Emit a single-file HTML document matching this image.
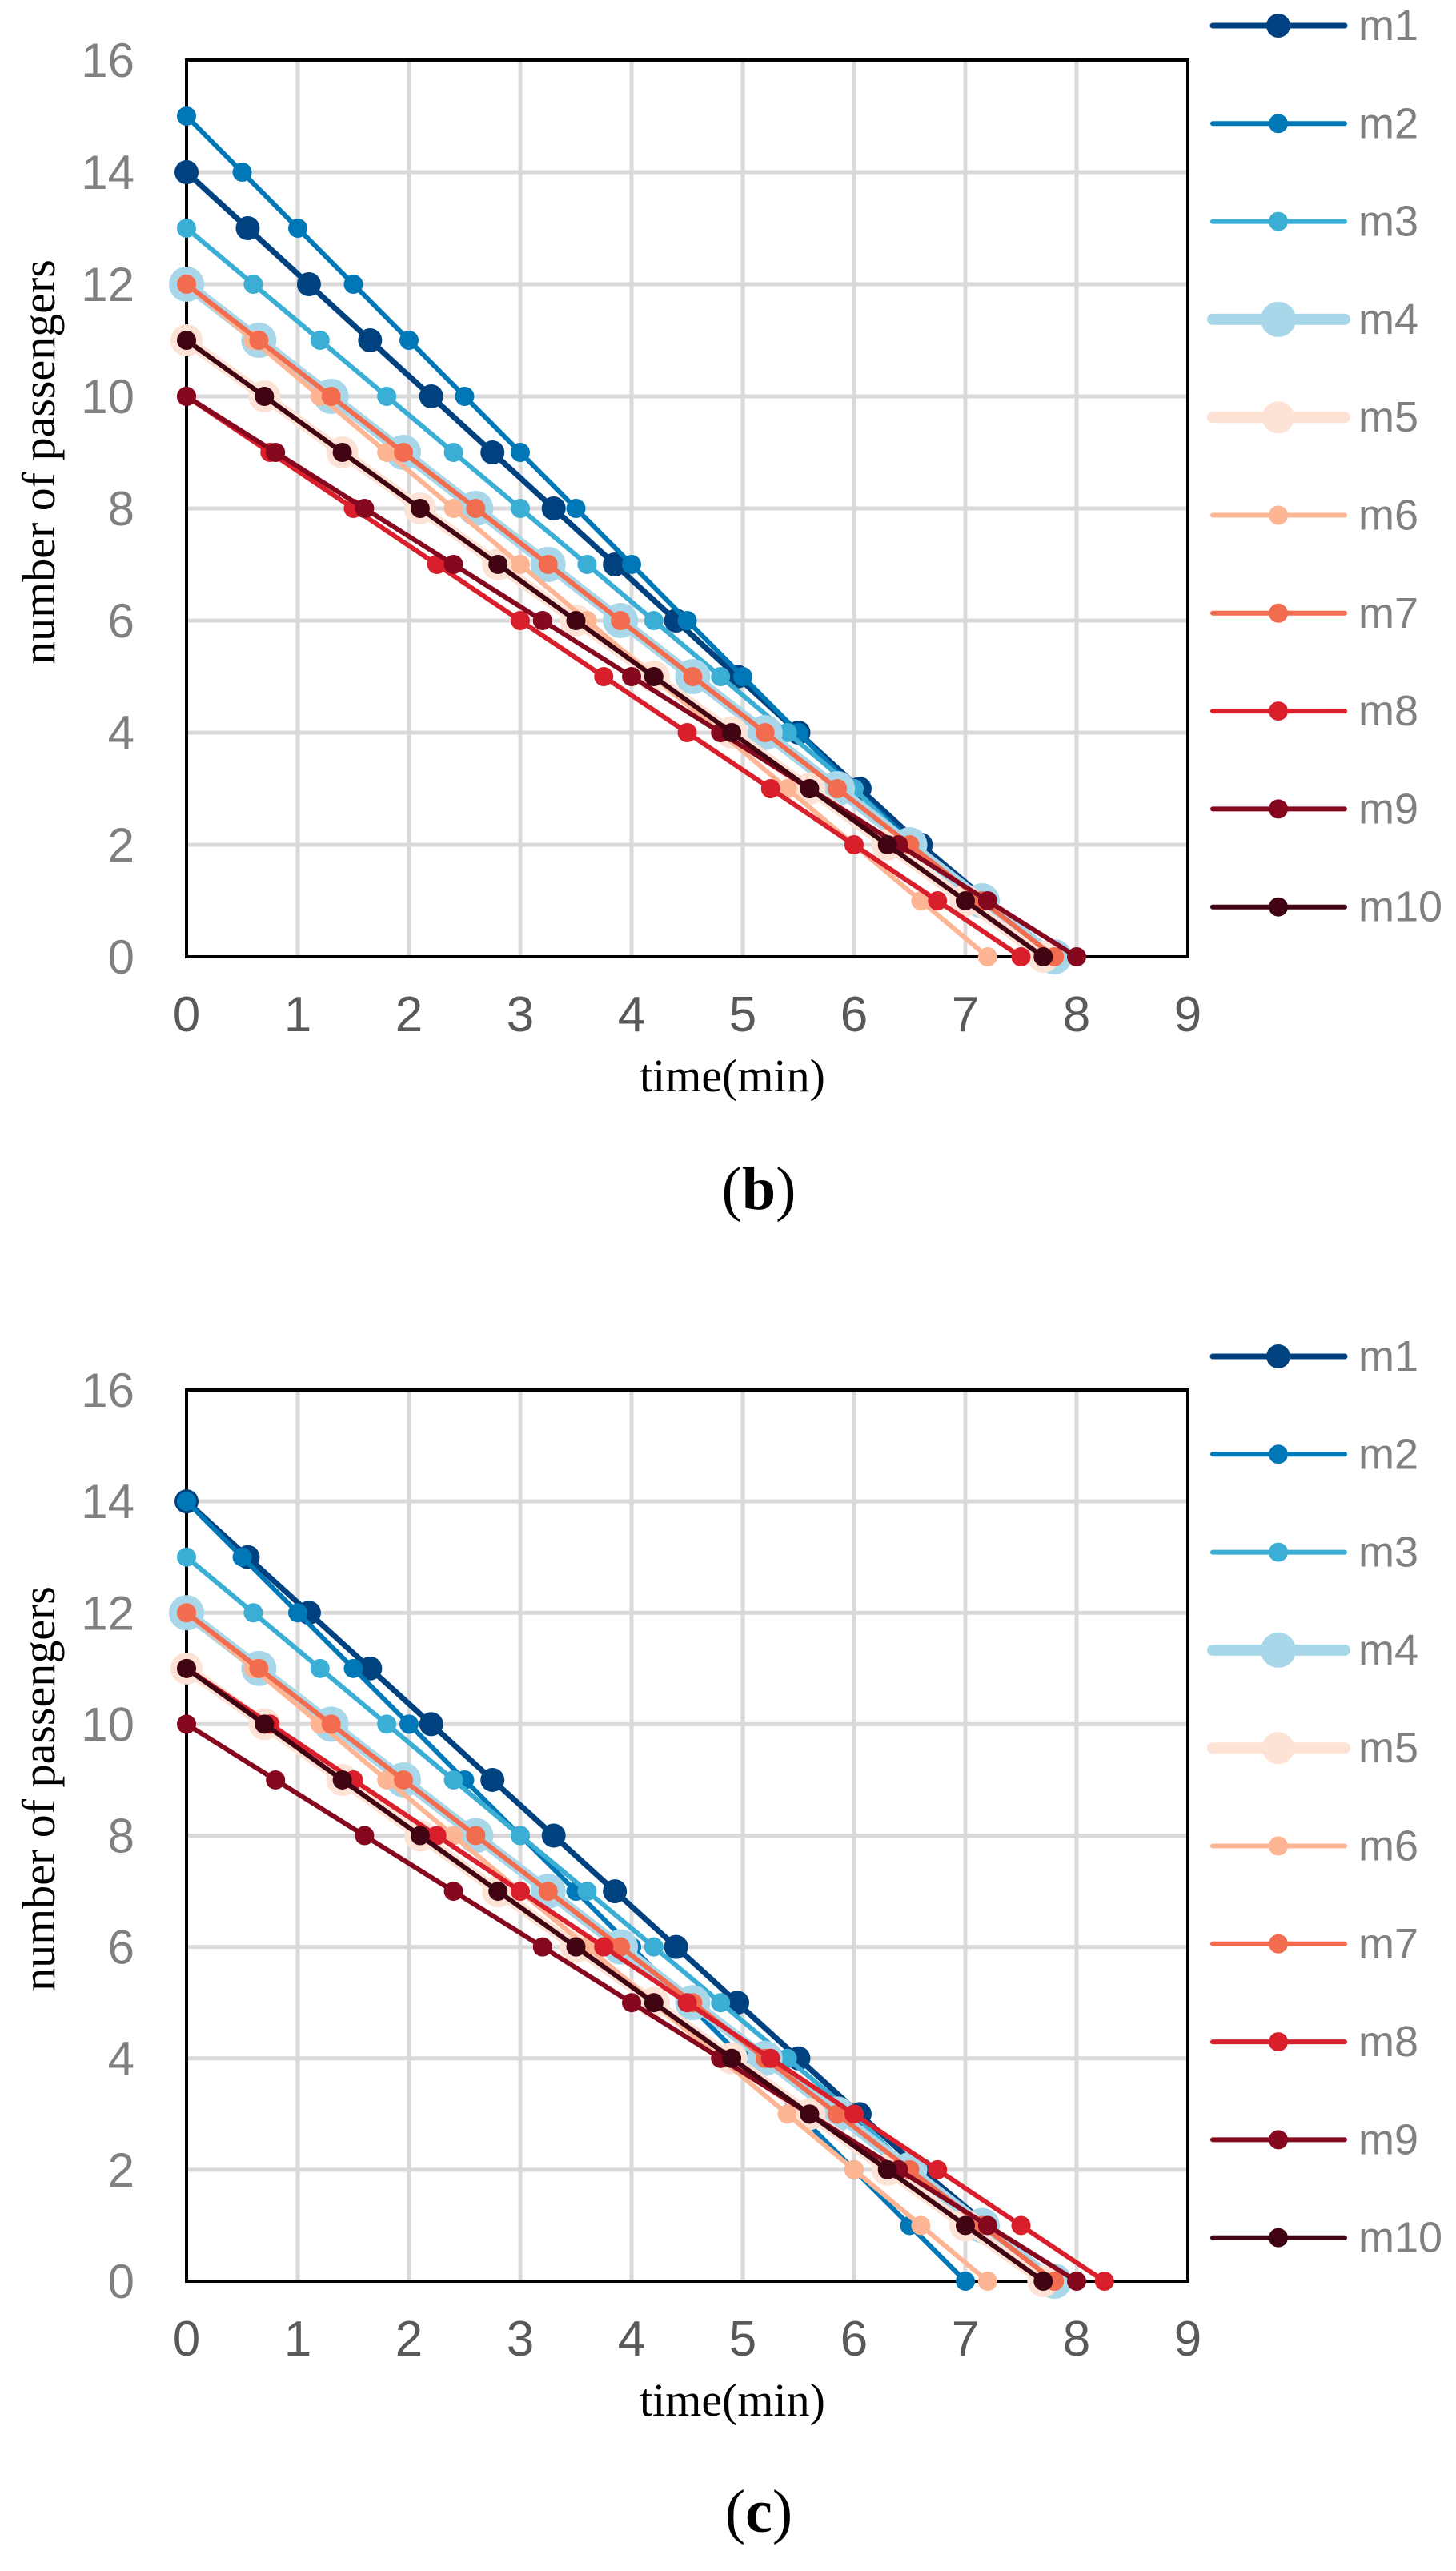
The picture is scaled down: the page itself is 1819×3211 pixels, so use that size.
<!DOCTYPE html>
<html><head><meta charset="utf-8"><style>
html,body{margin:0;padding:0;background:#fff;}
svg{display:block;}
</style></head><body>
<svg id="root" width="1819" height="3211" viewBox="0 0 1819 3211" xmlns="http://www.w3.org/2000/svg"></svg>
<script>
const seriesNames=["m1","m2","m3","m4","m5","m6","m7","m8","m9","m10"];
const xTicks=[0,1,2,3,4,5,6,7,8,9];
const yTicks=[0,2,4,6,8,10,12,14,16];
// panel b data
const bM1x=[0,0.55,1.1,1.65,2.2,2.75,3.3,3.85,4.4,4.95,5.5,6.05,6.6,7.2,7.8];
const bM1y=[14,13,12,11,10,9,8,7,6,5,4,3,2,1,0];
const bM2x=[0,0.5,1,1.5,2,2.5,3,3.5,4,4.5,5,5.5,6,6.55,7.1,7.65];
const bM2y=[15,14,13,12,11,10,9,8,7,6,5,4,3,2,1,0];
const bM3x=[0,0.6,1.2,1.8,2.4,3,3.6,4.2,4.8,5.4,6,6.5,7.1,7.7];
const bM3y=[13,12,11,10,9,8,7,6,5,4,3,2,1,0];
const bM4x=[0,0.65,1.3,1.95,2.6,3.25,3.9,4.55,5.2,5.85,6.5,7.15,7.8];
const bM4y=[12,11,10,9,8,7,6,5,4,3,2,1,0];
const bM5x=[0,0.7,1.4,2.1,2.8,3.5,4.2,4.9,5.6,6.3,7,7.7];
const bM5y=[11,10,9,8,7,6,5,4,3,2,1,0];
const bM6x=[0,0.6,1.2,1.8,2.4,3,3.6,4.2,4.8,5.4,6,6.6,7.2];
const bM6y=[12,11,10,9,8,7,6,5,4,3,2,1,0];
const bM7x=[0,0.65,1.3,1.95,2.6,3.25,3.9,4.55,5.2,5.85,6.5,7.15,7.8];
const bM7y=[12,11,10,9,8,7,6,5,4,3,2,1,0];
const bM8x=[0,0.75,1.5,2.25,3,3.75,4.5,5.25,6,6.75,7.5];
const bM8y=[10,9,8,7,6,5,4,3,2,1,0];
const bM9x=[0,0.8,1.6,2.4,3.2,4,4.8,5.6,6.4,7.2,8];
const bM9y=[10,9,8,7,6,5,4,3,2,1,0];
const bM10x=[0,0.7,1.4,2.1,2.8,3.5,4.2,4.9,5.6,6.3,7,7.7];
const bM10y=[11,10,9,8,7,6,5,4,3,2,1,0];
// panel c data
const cM1x=[0,0.55,1.1,1.65,2.2,2.75,3.3,3.85,4.4,4.95,5.5,6.05,6.6,7.2,7.8];
const cM1y=[14,13,12,11,10,9,8,7,6,5,4,3,2,1,0];
const cM2x=[0,0.5,1,1.5,2,2.5,3,3.5,4,4.5,5,5.5,6,6.5,7];
const cM2y=[14,13,12,11,10,9,8,7,6,5,4,3,2,1,0];
const cM3x=[0,0.6,1.2,1.8,2.4,3,3.6,4.2,4.8,5.4,6,6.5,7.1,7.7];
const cM3y=[13,12,11,10,9,8,7,6,5,4,3,2,1,0];
const cM4x=[0,0.65,1.3,1.95,2.6,3.25,3.9,4.55,5.2,5.85,6.5,7.15,7.8];
const cM4y=[12,11,10,9,8,7,6,5,4,3,2,1,0];
const cM5x=[0,0.7,1.4,2.1,2.8,3.5,4.2,4.9,5.6,6.3,7,7.7];
const cM5y=[11,10,9,8,7,6,5,4,3,2,1,0];
const cM6x=[0,0.6,1.2,1.8,2.4,3,3.6,4.2,4.8,5.4,6,6.6,7.2];
const cM6y=[12,11,10,9,8,7,6,5,4,3,2,1,0];
const cM7x=[0,0.65,1.3,1.95,2.6,3.25,3.9,4.55,5.2,5.85,6.5,7.15,7.8];
const cM7y=[12,11,10,9,8,7,6,5,4,3,2,1,0];
const cM8x=[0,0.75,1.5,2.25,3,3.75,4.5,5.25,6,6.75,7.5,8.25];
const cM8y=[11,10,9,8,7,6,5,4,3,2,1,0];
const cM9x=[0,0.8,1.6,2.4,3.2,4,4.8,5.6,6.4,7.2,8];
const cM9y=[10,9,8,7,6,5,4,3,2,1,0];
const cM10x=[0,0.7,1.4,2.1,2.8,3.5,4.2,4.9,5.6,6.3,7,7.7];
const cM10y=[11,10,9,8,7,6,5,4,3,2,1,0];

const colors=["#00427f","#0078b8","#3aaed5","#a9d7ea","#fde2d6","#fdb594","#f26c50","#d91f2c","#86081f","#410412"];
const lw=[7,6,6,14,14,6,6,6,6,6];
const mr=[15,12,12,22,20,12,12,12,12,12];

const NS="http://www.w3.org/2000/svg";
const root=document.getElementById('root');
function mk(tag,attrs,parent,text){const e=document.createElementNS(NS,tag);for(const k in attrs)e.setAttribute(k,attrs[k]);if(text!==undefined)e.textContent=text;(parent||root).appendChild(e);return e;}

function panel(id,top,bottom,legTop,xs,ys,xTitleY,ytitleY,capY,cap){
  const x0=233,x1=1484;
  const sx=v=>x0+(x1-x0)*v/9;
  const sy=v=>bottom-(bottom-top)*v/16;
  const g=mk('g',{});
  
  
  const grid=mk('g',{},g);
  
  
  xTicks.forEach(t=>{if(t>0&&t<9)mk('line',{x1:sx(t),x2:sx(t),y1:top,y2:bottom,stroke:'#d9d9d9','stroke-width':5},grid);});
  yTicks.forEach(t=>{if(t>0&&t<16)mk('line',{x1:x0,x2:x1,y1:sy(t),y2:sy(t),stroke:'#d9d9d9','stroke-width':5},grid);});
  const frame=mk('rect',{x:x0,y:top,width:x1-x0,height:bottom-top,fill:'none',stroke:'#000','stroke-width':4},g);
  
  
  yTicks.forEach(t=>{const e=mk('text',{x:168,y:sy(t)+21,'text-anchor':'end','font-family':'Liberation Sans, sans-serif','font-size':60,fill:'#808080'},g,String(t));
    
    });
  xTicks.forEach(t=>{const e=mk('text',{x:sx(t),y:bottom+93,'text-anchor':'middle','font-family':'Liberation Sans, sans-serif','font-size':62,fill:'#595959'},g,String(t));
    
    });
  const xt=mk('text',{x:915,y:xTitleY,'text-anchor':'middle','font-family':'Liberation Serif, serif','font-size':58,fill:'#000'},g,'time(min)');
  
  
  const yt=mk('text',{x:0,y:0,'text-anchor':'middle','font-family':'Liberation Serif, serif','font-size':58,fill:'#000',transform:'translate(68,'+ytitleY+') rotate(-90)'},g,'number of passengers');
  
  
  const cp=mk('text',{x:948,y:capY,'text-anchor':'middle','font-family':'Liberation Serif, serif','font-size':76,fill:'#000'},g);
  
  
  mk('tspan',{},cp,'(');mk('tspan',{'font-weight':'bold'},cp,cap);mk('tspan',{},cp,')');
  for(let i=0;i<10;i++){
    const sg=mk('g',{},g);
    
    
    const pts=xs[i].map((v,k)=>sx(v)+','+sy(ys[i][k])).join(' ');
    const pl=mk('polyline',{points:pts,fill:'none',stroke:colors[i],'stroke-width':lw[i],'stroke-linejoin':'round','stroke-linecap':'round'},sg);
    
    
    xs[i].forEach((v,k)=>{const c=mk('circle',{cx:sx(v),cy:sy(ys[i][k]),r:mr[i],fill:colors[i]},sg);
      
      });
  }
  const lg=mk('g',{},g);
  
  
  for(let i=0;i<10;i++){
    const y=legTop+122.3*i;
    const eg=mk('g',{},lg);
    
    
    mk('line',{x1:1515,x2:1680,y1:y,y2:y,stroke:colors[i],'stroke-width':lw[i],'stroke-linecap':'round'},eg);
    mk('circle',{cx:1597,cy:y,r:mr[i],fill:colors[i]},eg);
    mk('text',{x:1697,y:y+18,'font-family':'Liberation Sans, sans-serif','font-size':54,fill:'#808080'},eg,seriesNames[i]);
  }
}
panel('b',75,1195,32,[bM1x,bM2x,bM3x,bM4x,bM5x,bM6x,bM7x,bM8x,bM9x,bM10x],[bM1y,bM2y,bM3y,bM4y,bM5y,bM6y,bM7y,bM8y,bM9y,bM10y],1363,577,1510,'b');
panel('c',1736,2849,1694,[cM1x,cM2x,cM3x,cM4x,cM5x,cM6x,cM7x,cM8x,cM9x,cM10x],[cM1y,cM2y,cM3y,cM4y,cM5y,cM6y,cM7y,cM8y,cM9y,cM10y],3017,2234,3162,'c');
</script>
</body></html>
